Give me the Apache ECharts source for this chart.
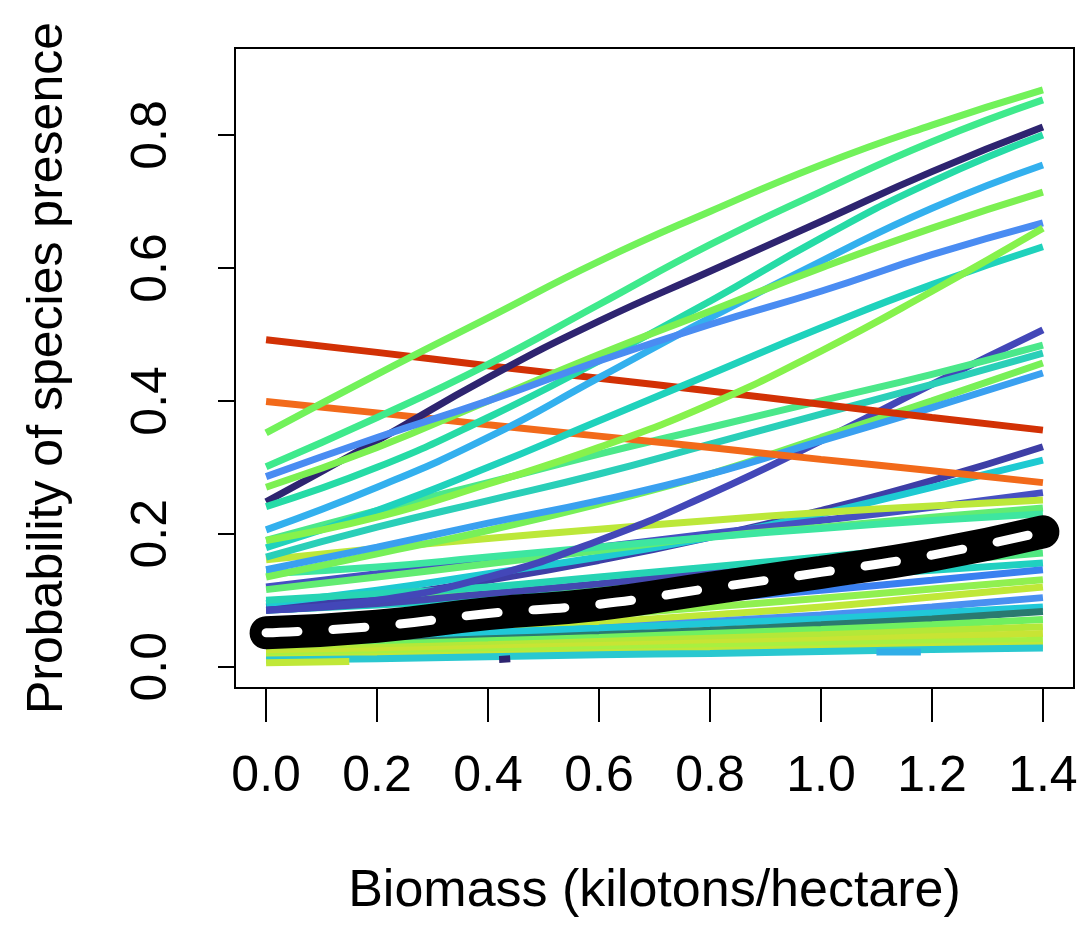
<!DOCTYPE html>
<html>
<head>
<meta charset="utf-8">
<script src="https://cdn.jsdelivr.net/npm/echarts@6/dist/echarts.min.js"></script>
<style>
html, body { margin: 0; padding: 0; background: #fff; }
#chart { width: 1084px; height: 926px; }
</style>
</head>
<body>
<div id="chart"></div>
<script>
const biomass = [0, 0.2, 0.4, 0.6, 0.8, 1.0, 1.2, 1.4]
const xTicks = [0, 0.2, 0.4, 0.6, 0.8, 1.0, 1.2, 1.4]
const yTicks = [0, 0.2, 0.4, 0.6, 0.8]

// species that decline with biomass
const fallingCurves = [
    [0.492, 0.473, 0.453, 0.434, 0.415, 0.395, 0.375, 0.356],
    [0.399, 0.382, 0.364, 0.347, 0.330, 0.312, 0.295, 0.277]
]
const fallingColors = ['#d23105', '#f26a1a']

// strong responders, end above 0.6
const highCurves = [
    [0.352, 0.440, 0.525, 0.610, 0.685, 0.755, 0.815, 0.868],
    [0.301, 0.375, 0.455, 0.545, 0.635, 0.715, 0.790, 0.853],
    [0.248, 0.340, 0.435, 0.520, 0.595, 0.670, 0.745, 0.812],
    [0.241, 0.300, 0.375, 0.460, 0.550, 0.645, 0.730, 0.800],
    [0.206, 0.270, 0.345, 0.435, 0.525, 0.610, 0.690, 0.755],
    [0.270, 0.330, 0.400, 0.470, 0.535, 0.600, 0.660, 0.714],
    [0.286, 0.345, 0.400, 0.460, 0.515, 0.565, 0.620, 0.668],
    [0.179, 0.235, 0.300, 0.370, 0.440, 0.510, 0.575, 0.632],
    [0.190, 0.225, 0.275, 0.330, 0.395, 0.475, 0.565, 0.660]
]
const highColors = ['#72f25a', '#3fea8c', '#2e2470', '#26dba6', '#33b0ee', '#7cf052', '#4a8cf2', '#1fd2bc', '#86f24c']

// end around 0.45-0.5
const midCurves = [
    [0.085, 0.100, 0.135, 0.190, 0.260, 0.340, 0.425, 0.507],
    [0.190, 0.235, 0.277, 0.320, 0.360, 0.400, 0.440, 0.484],
    [0.165, 0.210, 0.250, 0.290, 0.335, 0.380, 0.425, 0.472],
    [0.135, 0.170, 0.205, 0.245, 0.290, 0.345, 0.400, 0.457],
    [0.146, 0.180, 0.216, 0.250, 0.290, 0.340, 0.390, 0.442]
]
const midColors = ['#4347b8', '#4be88a', '#2acfb8', '#78f058', '#3aa0f0']

// end around 0.19-0.33
const lowMidCurves = [
    [0.090, 0.105, 0.130, 0.160, 0.195, 0.235, 0.280, 0.331],
    [0.095, 0.115, 0.140, 0.165, 0.195, 0.230, 0.270, 0.311],
    [0.120, 0.140, 0.160, 0.180, 0.200, 0.220, 0.240, 0.262],
    [0.161, 0.178, 0.193, 0.207, 0.220, 0.232, 0.242, 0.251],
    [0.116, 0.135, 0.155, 0.175, 0.195, 0.210, 0.225, 0.239],
    [0.140, 0.150, 0.165, 0.180, 0.195, 0.208, 0.220, 0.230],
    [0.085, 0.095, 0.110, 0.125, 0.142, 0.160, 0.180, 0.200],
    [0.100, 0.110, 0.120, 0.135, 0.150, 0.165, 0.180, 0.195]
]
const lowMidColors = ['#3e3ea6', '#1ecad2', '#4650c2', '#bce83a', '#62ec72', '#3ee6a0', '#4448b0', '#26d4b4']

// rare species near the bottom
const lowCurves = [
    [0.090, 0.100, 0.110, 0.120, 0.132, 0.145, 0.158, 0.171],
    [0.085, 0.093, 0.102, 0.112, 0.123, 0.134, 0.145, 0.156],
    [0.060, 0.070, 0.080, 0.090, 0.102, 0.115, 0.130, 0.146],
    [0.045, 0.055, 0.065, 0.077, 0.090, 0.103, 0.117, 0.131],
    [0.040, 0.048, 0.057, 0.067, 0.078, 0.090, 0.105, 0.120],
    [0.035, 0.042, 0.050, 0.058, 0.068, 0.078, 0.090, 0.104],
    [0.040, 0.046, 0.052, 0.058, 0.065, 0.072, 0.081, 0.090],
    [0.030, 0.036, 0.042, 0.048, 0.055, 0.063, 0.072, 0.083],
    [0.030, 0.034, 0.039, 0.044, 0.050, 0.056, 0.063, 0.071],
    [0.025, 0.029, 0.033, 0.038, 0.043, 0.048, 0.054, 0.060],
    [0.020, 0.024, 0.028, 0.032, 0.036, 0.040, 0.045, 0.050],
    [0.015, 0.018, 0.022, 0.026, 0.030, 0.033, 0.037, 0.040],
    [0.012, 0.015, 0.018, 0.021, 0.024, 0.027, 0.030, 0.032],
    [0.010, 0.012, 0.015, 0.018, 0.020, 0.023, 0.026, 0.028]
]
const lowColors = ['#50e880', '#20d0c0', '#3a80f0', '#90f050', '#c0e838', '#4a90f0', '#20c8d8',
    '#2a7a70', '#70f060', '#b4e838', '#c8e434', '#a8f040', '#c0e838', '#2ac8d0']

// short pieces, observed over part of the range only
const shortX = [[0, 0.15], [1.1, 1.18], [0.42, 0.44]]
const shortY = [[0.006, 0.008], [0.022, 0.022], [0.011, 0.012]]
const shortColors = ['#c0e838', '#30aee8', '#2e2470']

// average over all species
const meanCurve = [0.051, 0.061, 0.080, 0.094, 0.118, 0.142, 0.168, 0.203]

const FONT = 'Liberation Sans, Arial, sans-serif'

function toPoints (ys, xs) {
    return ys.map((y, i) => [(xs || biomass)[i], y])
}

function lineSeries (data, color, width) {
    return {
        type: 'line',
        data: data,
        smooth: true,
        symbol: 'none',
        silent: true,
        lineStyle: { color: color, width: width || 7 }
    }
}

const series = []
lowCurves.forEach((c, i) => series.push(lineSeries(toPoints(c), lowColors[i])))
shortY.forEach((c, i) => series.push(lineSeries(toPoints(c, shortX[i]), shortColors[i])))
lowMidCurves.forEach((c, i) => series.push(lineSeries(toPoints(c), lowMidColors[i])))
midCurves.forEach((c, i) => series.push(lineSeries(toPoints(c), midColors[i])))
fallingCurves.forEach((c, i) => series.push(lineSeries(toPoints(c), fallingColors[i])))
highCurves.forEach((c, i) => series.push(lineSeries(toPoints(c), highColors[i])))

// thick black mean line with white dashes on top
const black = lineSeries(toPoints(meanCurve), '#000', 33)
black.lineStyle.cap = 'round'
series.push(black)
const dashes = lineSeries(toPoints(meanCurve), '#fff', 9)
dashes.lineStyle.type = [32, 35]
dashes.lineStyle.cap = 'round'
series.push(dashes)

const myChart = echarts.init(document.getElementById('chart'))
myChart.setOption({
    animation: false,
    backgroundColor: '#fff',
    grid: {
        left: 235,
        right: 10,
        top: 48,
        bottom: 238,
        show: true,
        borderColor: '#000',
        borderWidth: 2,
        backgroundColor: 'transparent'
    },
    xAxis: {
        type: 'value',
        min: -0.056,
        max: 1.456,
        axisLine: { show: false, onZero: false },
        splitLine: { show: false },
        axisTick: {
            show: true,
            length: 34,
            customValues: xTicks,
            lineStyle: { color: '#000', width: 2 }
        },
        axisLabel: {
            customValues: xTicks,
            formatter: v => v.toFixed(1),
            fontSize: 50,
            fontFamily: FONT,
            color: '#000',
            margin: 64
        },
        name: 'Biomass (kilotons/hectare)',
        nameLocation: 'middle',
        nameGap: 178,
        nameTextStyle: { fontSize: 52, fontFamily: FONT, color: '#000' }
    },
    yAxis: {
        type: 'value',
        min: -0.032,
        max: 0.931,
        axisLine: { show: false, onZero: false },
        splitLine: { show: false },
        axisTick: {
            show: true,
            length: 17,
            customValues: yTicks,
            lineStyle: { color: '#000', width: 2 }
        },
        axisLabel: {
            customValues: yTicks,
            formatter: v => v.toFixed(1),
            rotate: 90,
            fontSize: 50,
            fontFamily: FONT,
            color: '#000',
            margin: 58
        },
        name: 'Probability of species presence',
        nameLocation: 'middle',
        nameGap: 162,
        nameTextStyle: { fontSize: 50, fontFamily: FONT, color: '#000' }
    },
    series: series
})
</script>
</body>
</html>
